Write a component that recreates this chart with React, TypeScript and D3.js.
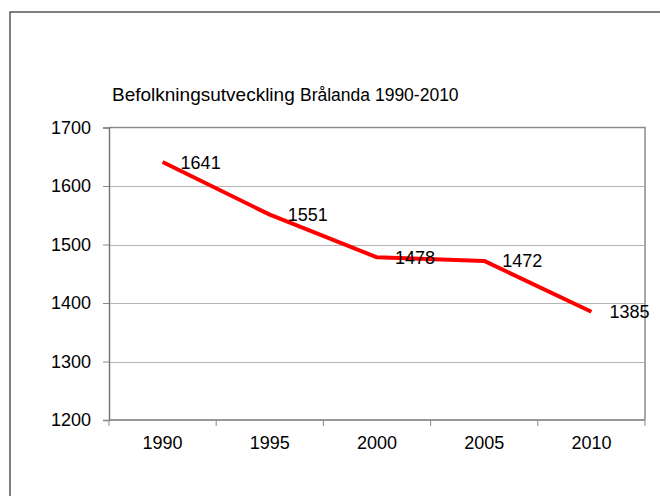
import React, { useEffect, useRef } from "react";
import * as d3 from "d3";

const years = ["1990", "1995", "2000", "2005", "2010"];
const population = [1641, 1551, 1478, 1472, 1385];
const yTicks = [1200, 1300, 1400, 1500, 1600, 1700];

const W = 660;
const H = 496;

const App: React.FC = () => {
  const svgRef = useRef<SVGSVGElement>(null);

  useEffect(() => {
    if (!svgRef.current) return;
    const svg = d3.select(svgRef.current);
    svg.selectAll("*").remove();

    const plot = { left: 109, right: 645, top: 127.5, bottom: 420 };
    const font = "Arial, 'Liberation Sans', sans-serif";

    const x = d3.scaleBand<string>()
      .domain(years)
      .range([plot.left, plot.right]);

    const y = d3.scaleLinear()
      .domain([1200, 1700])
      .range([plot.bottom, plot.top]);

    // outer frame
    svg.append("rect")
      .attr("x", 10)
      .attr("y", 12)
      .attr("width", W)
      .attr("height", H)
      .attr("fill", "white")
      .attr("stroke", "#555")
      .attr("stroke-width", 1.5);

    // title
    const title = svg.append("text")
      .attr("x", 112)
      .attr("y", 100.5)
      .attr("font-family", font)
      .attr("fill", "#000");
    title.append("tspan").attr("font-size", 19).text("Befolkningsutveckling ");
    title.append("tspan").attr("font-size", 17.5).text("Brålanda 1990-2010");

    // gridlines
    svg.append("g")
      .selectAll("line")
      .data(yTicks.filter(t => t !== 1200 && t !== 1700))
      .enter()
      .append("line")
      .attr("x1", plot.left)
      .attr("x2", plot.right)
      .attr("y1", d => Math.round(y(d)) + 0.5)
      .attr("y2", d => Math.round(y(d)) + 0.5)
      .attr("stroke", "#b4b4b4")
      .attr("stroke-width", 1);

    // plot border (top + right)
    svg.append("path")
      .attr("d", `M${plot.left},${plot.top}H${plot.right}V${plot.bottom}`)
      .attr("fill", "none")
      .attr("stroke", "#8c8c8c")
      .attr("stroke-width", 1.5);

    // y axis
    const yAxis = svg.append("g")
      .attr("transform", `translate(${plot.left},0)`)
      .call(d3.axisLeft(y).tickValues(yTicks).tickSize(6).tickPadding(12).tickFormat(d3.format("d")));
    yAxis.select(".domain").attr("stroke", "#777").attr("stroke-width", 1.5);
    yAxis.selectAll(".tick line").attr("stroke", "#888");
    yAxis.selectAll("text")
      .attr("font-family", font)
      .attr("font-size", 18)
      .attr("fill", "#000");

    // x axis: ticks at band boundaries
    const xAxis = svg.append("g")
      .attr("transform", `translate(0,${plot.bottom})`);
    xAxis.append("line")
      .attr("x1", plot.left)
      .attr("x2", plot.right)
      .attr("stroke", "#777")
      .attr("stroke-width", 1.5);
    const bounds = years.map(d => x(d)!).concat([plot.right]);
    xAxis.selectAll(".xt")
      .data(bounds)
      .enter()
      .append("line")
      .attr("class", "xt")
      .attr("x1", d => d)
      .attr("x2", d => d)
      .attr("y1", 0)
      .attr("y2", 6)
      .attr("stroke", "#888");
    xAxis.selectAll(".xl")
      .data(years)
      .enter()
      .append("text")
      .attr("class", "xl")
      .attr("x", d => x(d)! + x.bandwidth() / 2)
      .attr("y", 29)
      .attr("text-anchor", "middle")
      .attr("font-family", font)
      .attr("font-size", 18)
      .attr("fill", "#000")
      .text(d => d);

    // line
    const pts: [number, number][] = years.map((d, i) => [x(d)! + x.bandwidth() / 2, y(population[i])]);
    svg.append("path")
      .attr("d", d3.line()(pts)!)
      .attr("fill", "none")
      .attr("stroke", "#ff0000")
      .attr("stroke-width", 4)
      .attr("stroke-linejoin", "round");

    // value labels
    svg.selectAll(".vl")
      .data(pts)
      .enter()
      .append("text")
      .attr("class", "vl")
      .attr("x", d => d[0] + 18)
      .attr("y", d => d[1] + 6.5)
      .attr("font-family", font)
      .attr("font-size", 18)
      .attr("fill", "#000")
      .text((_, i) => population[i]);
  }, []);

  return (
    <div style={{ position: "absolute", left: 0, top: 0, width: W, height: H, background: "#fff" }}>
      <svg ref={svgRef} width={W} height={H} style={{ display: "block" }} />
    </div>
  );
};

export default App;
